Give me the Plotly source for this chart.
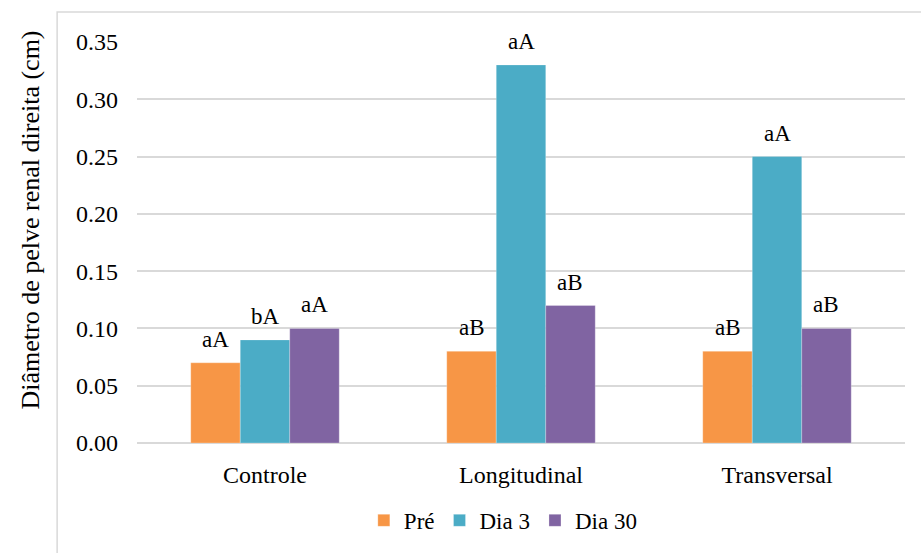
import plotly.graph_objects as go

categories = ["Controle", "Longitudinal", "Transversal"]
series_names = ["Pré", "Dia 3", "Dia 30"]
pre_values = [0.07, 0.08, 0.08]
dia3_values = [0.09, 0.33, 0.25]
dia30_values = [0.10, 0.12, 0.10]
pre_labels = ["aA", "aB", "aB"]
dia3_labels = ["bA", "aA", "aA"]
dia30_labels = ["aA", "aB", "aB"]
y_ticks = [0.00, 0.05, 0.10, 0.15, 0.20, 0.25, 0.30, 0.35]
y_title = "Diâmetro de pelve renal direita (cm)"

colors = ["#F79646", "#4BACC6", "#8064A2"]
FONT = "Liberation Serif"
BARGAP = 0.42

series_values = [pre_values, dia3_values, dia30_values]
series_labels = [pre_labels, dia3_labels, dia30_labels]

fig = go.Figure()
for name, vals, col in zip(series_names, series_values, colors):
    fig.add_trace(go.Bar(
        x=categories, y=vals, name=name,
        marker=dict(color=col, line=dict(color="rgba(255,255,255,0.5)", width=0.5)),
    ))

bar_w = (1 - BARGAP) / len(series_names)
for i, (vals, labs) in enumerate(zip(series_values, series_labels)):
    for j, (v, lab) in enumerate(zip(vals, labs)):
        fig.add_annotation(
            x=j + (i - 1) * bar_w, y=v, xref="x", yref="y",
            text=lab, showarrow=False, yanchor="bottom", yshift=9,
            font=dict(family=FONT, size=23, color="#000000"),
        )

# y-axis title (placed like the original, slightly above plot centre)
fig.add_annotation(
    x=-0.1393, y=0.555, xref="paper", yref="paper",
    text=y_title, textangle=-90, showarrow=False,
    xanchor="center", yanchor="middle",
    font=dict(family=FONT, size=26, color="#000000"),
)

# outer chart frame (light gray)
fig.add_shape(type="rect", xref="paper", yref="paper",
              x0=-0.104, x1=1.2, y0=-0.6, y1=1.0746,
              line=dict(color="#D9D9D9", width=1.5), fillcolor="rgba(0,0,0,0)", layer="below")

fig.update_layout(
    width=921, height=553,
    margin=dict(l=137, r=16, t=42, b=109),
    paper_bgcolor="white", plot_bgcolor="white",
    barmode="group", bargap=BARGAP, bargroupgap=0,
    font=dict(family=FONT, size=23, color="#000000"),
    showlegend=True,
    legend=dict(orientation="h", x=0.477, xanchor="center", y=-0.19, yanchor="middle",
                font=dict(family=FONT, size=23, color="#000000"),
                itemwidth=30, tracegroupgap=0),
    xaxis=dict(showgrid=False, showline=False, ticks="", ticklabelstandoff=15,
               tickfont=dict(family=FONT, size=24, color="#000000")),
    yaxis=dict(range=[0, 0.35], tickvals=y_ticks, tickformat=".2f",
               showgrid=True, gridcolor="#D9D9D9", gridwidth=1.5,
               zeroline=True, zerolinecolor="#D9D9D9", zerolinewidth=1.5,
               showline=False, ticks="", ticklabelstandoff=18,
               tickfont=dict(family=FONT, size=24, color="#000000")),
)

fig.write_html("out.html", config={"displayModeBar": False},
               post_script="document.body.style.margin='0px';")
